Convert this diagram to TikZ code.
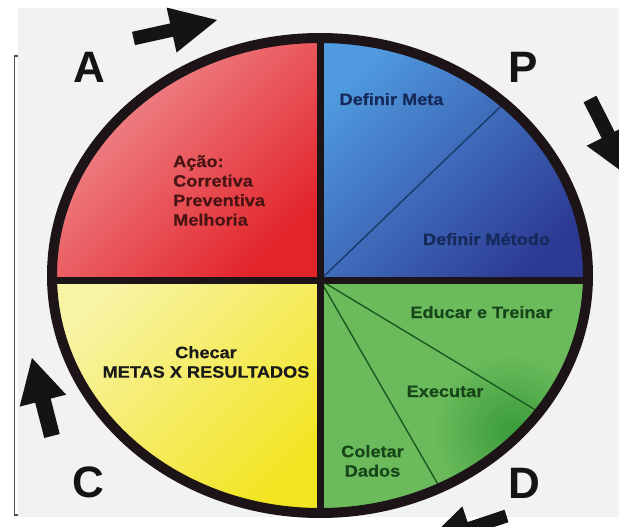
\documentclass[tikz,border=0pt]{standalone}
\usepackage{fontspec}
\setmainfont{Liberation Sans}
\newfontfamily\labfont{Liberation Sans}[FakeStretch=1.1, FakeBold=0.5]
\usetikzlibrary{calc}
\definecolor{bggray}{HTML}{F2F2F2}
\definecolor{edgeline}{HTML}{505050}
\definecolor{rimcol}{HTML}{1C1416}
\definecolor{redlight}{HTML}{F29A9D}
\definecolor{reddark}{HTML}{E2252B}
\definecolor{bluelight}{HTML}{509BDF}
\definecolor{bluedark}{HTML}{2C3992}
\definecolor{yellight}{HTML}{F8F4A6}
\definecolor{yeldark}{HTML}{F2E420}
\definecolor{greenbase}{HTML}{6BBB5C}
\definecolor{greenspot}{HTML}{3A9C3A}
\definecolor{redtext}{HTML}{4A1414}
\definecolor{bluetext}{HTML}{15295A}
\definecolor{greentext}{HTML}{16461A}
\definecolor{yeltext}{HTML}{1A1A1A}
\definecolor{bluethin}{HTML}{1A3A6E}
\definecolor{greenthin}{HTML}{1B5A1E}
\newcommand{\fatarrow}[5]{%
  \path ($(#2)!#3!(#1)$) coordinate (hb);
  \fill[arrowfill] ($(#1)!#5!90:(#2)$) -- ($(hb)!#5!-90:(#1)$) -- ($(hb)!#4!-90:(#1)$) -- (#2)
     -- ($(hb)!#4!90:(#1)$) -- ($(hb)!#5!90:(#1)$) -- ($(#1)!#5!-90:(#2)$) -- cycle;}
\tikzset{
  lbl/.style={font=\labfont\bfseries\fontsize{16.5}{19.5}\selectfont, inner sep=0pt},
  bigletter/.style={font=\bfseries\fontsize{44}{44}\selectfont, inner sep=0pt, text=black!92},
  arrowfill/.style={fill=black!92},
  divider/.style={draw=rimcol, line width=7pt},
  thinline/.style={line width=1.4pt},
  rim/.style={draw=rimcol, line width=10pt}
}
\begin{document}
\begin{tikzpicture}[x=1pt, y=-1pt]
\useasboundingbox (0,0) rectangle (619,527);
\begin{scope}
\clip (0,0) rectangle (619,527);
\fill[white] (0,0) rectangle (619,527);
\fill[bggray] (18,8) rectangle (619,517);
\draw[edgeline, line width=1.6pt] (18,56) -- (14.5,56) -- (14.5,515) -- (18,515);

% quadrants
\coordinate (c) at (320,280);
\coordinate (e) at (320,275.5);
\begin{scope}
\clip (e) ellipse [x radius=268pt, y radius=237.5pt];
\shade[top color=redlight, bottom color=reddark, shading angle=45] (40,25) rectangle (320,280);
\shade[top color=bluelight, bottom color=bluedark, shading angle=45] (320,25) rectangle (600,280);
\shade[top color=yellight, bottom color=yeldark, shading angle=45] (40,280) rectangle (320,525);
\fill[greenbase] (320,280) rectangle (600,525);
\begin{scope}
\clip (320,280) rectangle (600,525);
\shade[inner color=greenspot, outer color=greenbase] (512,432) circle (80pt);
\end{scope}
\coordinate (pm) at ({320+280*cos(46.5)},{275.5-249*sin(46.5)});
\coordinate (g1) at ({320+280*cos(-35)},{275.5-249*sin(-35)});
\coordinate (g2) at ({320+280*cos(-63.3)},{275.5-249*sin(-63.3)});
\draw[thinline, bluethin] (c) -- (pm);
\draw[thinline, greenthin] (c) -- (g1);
\draw[thinline, greenthin] (c) -- (g2);
\draw[divider] (320,20) -- (320,530);
\draw[divider] (30,280) -- (610,280);
\end{scope}
\draw[rim] (e) ellipse [x radius=268pt, y radius=237.5pt];

% labels
\node[lbl, text=redtext, align=left, anchor=west] (acao) at (173,190.5) {Ação:\\Corretiva\\Preventiva\\Melhoria};
\node[lbl, text=bluetext, anchor=base] (meta) at (391.5,105) {Definir Meta};
\node[lbl, text=bluetext, anchor=base] (metodo) at (486.5,245) {Definir Método};
\node[lbl, text=greentext, anchor=base] (educar) at (481.5,318) {Educar e Treinar};
\node[lbl, text=greentext, anchor=base] (executar) at (445,397) {Executar};
\node[lbl, text=greentext, align=center] (coletar) at (372.5,461) {Coletar\\Dados};
\node[lbl, text=yeltext, align=center] (checar) at (206,362) {Checar\\METAS X RESULTADOS};

% big letters
\node[bigletter, anchor=base] (A) at (89,82) {A};
\node[bigletter, anchor=base] (P) at (523,82) {P};
\node[bigletter, anchor=base] (C) at (88,497) {C};
\node[bigletter, anchor=base] (D) at (524,498) {D};

% arrows
\coordinate (t1) at (133.5,38.5); \coordinate (h1) at (217,20);
\fatarrow{t1}{h1}{46.5pt}{23pt}{6.8pt}
\coordinate (t2) at (590,99); \coordinate (h2) at (629.3,176.9);
\fatarrow{t2}{h2}{47pt}{24pt}{7.2pt}
\coordinate (t3) at (506.5,516); \coordinate (h3) at (425,543);
\fatarrow{t3}{h3}{47pt}{23pt}{6.5pt}
\coordinate (t4) at (52,436); \coordinate (h4) at (32,358);
\fatarrow{t4}{h4}{44pt}{24pt}{8pt}
\end{scope}
\end{tikzpicture}
\end{document}
